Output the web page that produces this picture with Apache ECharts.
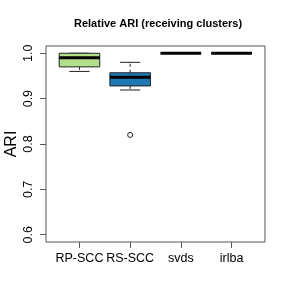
<!DOCTYPE html>
<html>
<head>
<meta charset="utf-8">
<script src="https://cdn.jsdelivr.net/npm/echarts@6/dist/echarts.min.js"></script>
<style>html,body{margin:0;padding:0;background:#fff;}#c{width:289px;height:300px;}</style>
</head>
<body>
<div id="c"></div>
<script>
var categories = ['RP-SCC', 'RS-SCC', 'svds', 'irlba'];
var lowerWhisker = [0.96, 0.919, 1.0, 1.0];
var q1 = [0.97, 0.928, 1.0, 1.0];
var median = [0.99, 0.947, 1.0, 1.0];
var q3 = [1.0, 0.957, 1.0, 1.0];
var upperWhisker = [1.0, 0.98, 1.0, 1.0];
var outlierCategory = ['RS-SCC'];
var outlierValue = [0.82];
var boxColors = ['#b2df8a', '#1f78b4', '#a6cee3', '#33a02c'];
var yTicks = [0.6, 0.7, 0.8, 0.9, 1.0];

var boxData = categories.map(function (c, i) {
  return [i + 1, lowerWhisker[i], q1[i], median[i], q3[i], upperWhisker[i]];
});
var outlierData = outlierCategory.map(function (c, i) {
  return [categories.indexOf(c) + 1, outlierValue[i]];
});

var chart = echarts.init(document.getElementById('c'), null, {renderer: 'canvas'});
var FONT = '"Liberation Sans", Arial, Helvetica, sans-serif';
var LINE = '#222';

function renderBox(params, api) {
  var x = api.value(0);
  var idx = params.dataIndex;
  var lw = api.coord([x, api.value(1)]);
  var b1 = api.coord([x, api.value(2)]);
  var md = api.coord([x, api.value(3)]);
  var b3 = api.coord([x, api.value(4)]);
  var uw = api.coord([x, api.value(5)]);
  var w = api.size([0.8, 0])[0];
  var half = w / 2, sHalf = w / 4;
  var cx = lw[0];
  var children = [];
  children.push({type: 'line', shape: {x1: cx, y1: b3[1], x2: cx, y2: uw[1]},
    style: {stroke: LINE, lineWidth: 1, lineDash: [3, 3]}});
  children.push({type: 'line', shape: {x1: cx, y1: b1[1], x2: cx, y2: lw[1]},
    style: {stroke: LINE, lineWidth: 1, lineDash: [3, 3]}});
  children.push({type: 'line', shape: {x1: cx - sHalf, y1: uw[1], x2: cx + sHalf, y2: uw[1]},
    style: {stroke: LINE, lineWidth: 1}});
  children.push({type: 'line', shape: {x1: cx - sHalf, y1: lw[1], x2: cx + sHalf, y2: lw[1]},
    style: {stroke: LINE, lineWidth: 1}});
  children.push({type: 'rect', shape: {x: cx - half, y: b3[1], width: w, height: b1[1] - b3[1]},
    style: {fill: boxColors[idx], stroke: LINE, lineWidth: 1}});
  children.push({type: 'line', shape: {x1: cx - half, y1: md[1], x2: cx + half, y2: md[1]},
    style: {stroke: '#000', lineWidth: 3}});
  return {type: 'group', children: children};
}

function renderOutlier(params, api) {
  var p = api.coord([api.value(0), api.value(1)]);
  return {type: 'circle', shape: {cx: p[0], cy: p[1], r: 2.5},
    style: {fill: '#fff', stroke: '#222', lineWidth: 1}};
}

chart.setOption({
  animation: false,
  backgroundColor: '#fff',
  title: {
    text: 'Relative ARI (receiving clusters)',
    left: 69, top: 13,
    textStyle: {fontFamily: FONT, fontSize: 11, fontWeight: 'bold', color: '#000'}
  },
  grid: {left: 46, right: 24, top: 46, bottom: 58, containLabel: false, outerBoundsMode: 'none',
    show: true, borderColor: '#555', borderWidth: 1, backgroundColor: 'transparent'},
  xAxis: {
    type: 'value', min: 0.34, max: 4.66,
    axisLine: {show: false},
    splitLine: {show: false},
    axisTick: {show: true, length: 6, lineStyle: {color: '#555'}, customValues: [1, 2, 3, 4]},
    axisLabel: {
      customValues: [1, 2, 3, 4], margin: 10, hideOverlap: false,
      formatter: function (v) { return categories[Math.round(v) - 1]; },
      fontFamily: FONT, fontSize: 12.5, color: '#000'
    }
  },
  yAxis: {
    type: 'value', min: 0.584, max: 1.016,
    name: 'ARI', nameLocation: 'middle', nameRotate: 90, nameGap: 26, nameMoveOverlap: false,
    nameTextStyle: {fontFamily: FONT, fontSize: 16, color: '#000'},
    axisLine: {show: false},
    splitLine: {show: false},
    axisTick: {show: true, length: 6, lineStyle: {color: '#555'}, customValues: yTicks},
    axisLabel: {
      customValues: yTicks, rotate: 90, margin: 11, hideOverlap: false,
      formatter: function (v) { return v.toFixed(1); },
      fontFamily: FONT, fontSize: 12.5, color: '#000'
    }
  },
  series: [
    {
      type: 'custom', renderItem: renderBox, data: boxData,
      encode: {x: 0, y: [1, 2, 3, 4, 5]}
    },
    {
      type: 'custom', renderItem: renderOutlier, data: outlierData,
      encode: {x: 0, y: 1}
    }
  ]
});
</script>
</body>
</html>
